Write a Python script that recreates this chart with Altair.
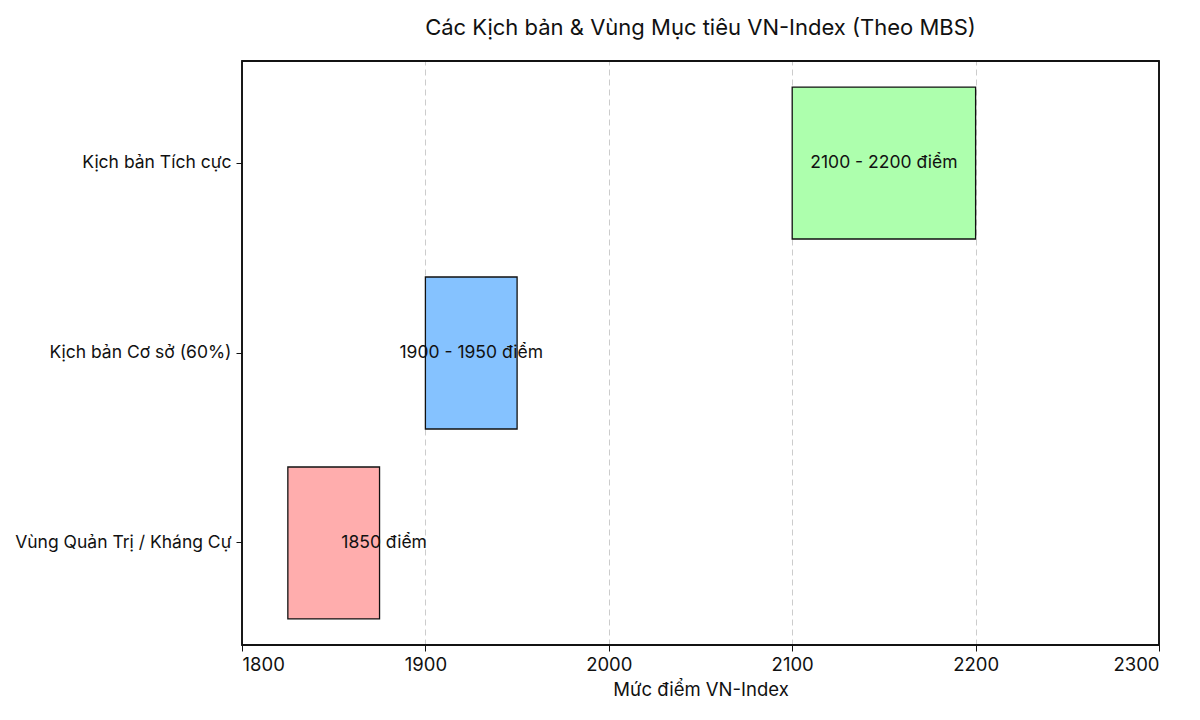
import altair as alt
import pandas as pd

# dữ liệu
kich_ban = ["Kịch bản Tích cực", "Kịch bản Cơ sở (60%)", "Vùng Quản Trị / Kháng Cự"]
bat_dau = [2100, 1900, 1825]
ket_thuc = [2200, 1950, 1875]
nhan = ["2100 - 2200 điểm", "1900 - 1950 điểm", "1850 điểm"]
vi_tri_nhan = [2150, 1925, 1877.5]
mau = ["#ADFFAD", "#85C2FF", "#FFADAD"]

FONT = "Inter"
W, H = 917, 584

df = pd.DataFrame({
    "kich_ban": kich_ban,
    "bat_dau": bat_dau,
    "ket_thuc": ket_thuc,
    "nhan": nhan,
    "vi_tri": vi_tri_nhan,
    "mau": mau,
})

y_enc = alt.Y(
    "kich_ban:N",
    sort=kich_ban,
    title=None,
    scale=alt.Scale(paddingInner=0.2, paddingOuter=0.137),
    axis=alt.Axis(labelFontSize=17.5, labelColor="#111", labelFont=FONT, labelLimit=0,
                  tickColor="#111", tickSize=6, domain=False, labelPadding=5),
)

bars = alt.Chart(df).mark_bar(stroke="#111", strokeWidth=1.3).encode(
    x=alt.X(
        "bat_dau:Q",
        title="Mức điểm VN-Index",
        scale=alt.Scale(domain=[1800, 2300], nice=False, zero=False),
        axis=alt.Axis(values=[1800, 1900, 2000, 2100, 2200, 2300], format="d",
                      labelFontSize=18.5, labelColor="#111", labelFont=FONT, labelPadding=4,
                      titleFontSize=18.5, titleFontWeight="normal", titleColor="#111",
                      titleFont=FONT, titlePadding=7,
                      tickColor="#111", tickSize=6, domain=False,
                      grid=True, gridDash=[6, 4], gridColor="#cccccc", gridWidth=1),
    ),
    x2="ket_thuc:Q",
    y=y_enc,
    fill=alt.Fill("mau:N", scale=None),
)

labels = alt.Chart(df).mark_text(fontSize=17.5, font=FONT, color="#111").encode(
    x="vi_tri:Q",
    y=alt.Y("kich_ban:N", sort=kich_ban),
    text="nhan:N",
)

# khung viền quanh vùng vẽ
frame = alt.Chart(df).mark_rect(fill=None, stroke="#111", strokeWidth=1.3).encode(
    x=alt.value(0), x2=alt.value(W), y=alt.value(0), y2=alt.value(H),
)

chart = (alt.layer(bars, labels, frame)
         .properties(
             width=W, height=H,
             title=alt.TitleParams("Các Kịch bản & Vùng Mục tiêu VN-Index (Theo MBS)",
                                   fontSize=22, fontWeight="normal", font=FONT,
                                   color="#111", anchor="middle", offset=20),
             autosize=alt.AutoSizeParams(type="none"),
             padding={"left": 234, "top": 53, "right": 33, "bottom": 60},
         )
         .configure_view(stroke=None)
         .configure(background="white"))

chart.save("out.html", embed_options={"renderer": "svg", "actions": False})
